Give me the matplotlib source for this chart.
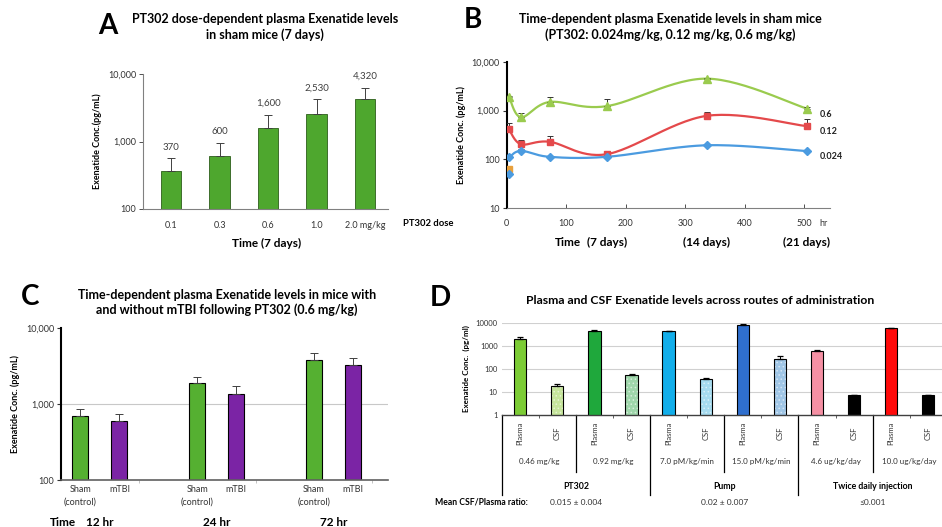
import numpy as np
import matplotlib
matplotlib.use("Agg")
import matplotlib.pyplot as plt
from matplotlib.transforms import blended_transform_factory
from matplotlib.lines import Line2D
from matplotlib.colors import to_rgb

plt.rcParams['font.family'] = ['Lato', 'DejaVu Sans']
plt.rcParams['hatch.linewidth'] = 0.6

# ---------------- DATA ----------------
A_doses = ['0.1', '0.3', '0.6', '1.0', '2.0 mg/kg']
A_values = [370, 600, 1600, 2530, 4320]
A_err = [190, 340, 900, 1670, 1980]
A_labels = ['370', '600', '1,600', '2,530', '4,320']

B_hours = [4, 24, 72, 168, 336, 504]
B_06 = [1900, 730, 1500, 1230, 4500, 1100]
B_06_err = [100, 170, 360, 460, 200, 100]
B_012 = [410, 205, 230, 128, 780, 480]
B_012_err = [150, 40, 65, 15, 165, 190]
B_0024 = [110, 150, 113, 113, 195, 148]
B_0024_err = [5, 12, 5, 5, 10, 8]
B_base_hour = 4
B_base_012 = 63
B_base_0024 = 50
B_xticks = [0, 100, 200, 300, 400, 500]
B_series_labels = ['0.6', '0.12', '0.024']

C_times = ['12 hr', '24 hr', '72 hr']
C_cats = ['Sham\n(control)', 'mTBI']
C_sham = [690, 1860, 3760]
C_sham_err = [160, 370, 930]
C_mtbi = [594, 1330, 3230]
C_mtbi_err = [140, 400, 760]

D_kinds = ['Plasma', 'CSF'] * 6
D_doses = ['0.46 mg/kg', '0.92 mg/kg', '7.0 pM/kg/min', '15.0 pM/kg/min',
           '4.6 ug/kg/day', '10.0 ug/kg/day']
D_routes = ['PT302', 'Pump', 'Twice daily injection']
D_ratios = ['0.015 \u00b1 0.004', '0.02 \u00b1 0.007', '\u22640.001']
D_values = [1900, 18, 4500, 54, 4400, 35, 8200, 260, 600, 7, 5700, 7]
D_err = [450, 4, 500, 7, 150, 5, 800, 100, 70, 0, 400, 0]
D_colors = ['#7ccc35', '#c6e59c', '#1fa83c', '#9fd6ab', '#12aeea', '#a6dbef',
            '#2f6fce', '#a0c6e6', '#f590a4', '#000000', '#ff0a0a', '#000000']
D_hatched = [False, True, False, True, False, True, False, True, False, False, False, False]

# ---------------- LAYOUT ----------------
W, H = 942, 527
fig = plt.figure(figsize=(W / 100, H / 100), dpi=100)
fig.patch.set_facecolor('white')


def ax_px(l, t, r, b):
    return fig.add_axes([l / W, 1 - b / H, (r - l) / W, (b - t) / H])


def fx(px):
    return px / W


def fy(py):
    return 1 - py / H


def ftext(x, y, s, **kw):
    fig.text(fx(x), fy(y), s, **kw)


TICK = 6.5


def style_log_axis(ax, labels_fmt):
    ax.set_yscale('log')
    ax.yaxis.set_minor_locator(matplotlib.ticker.NullLocator())
    ax.yaxis.set_major_formatter(matplotlib.ticker.FuncFormatter(labels_fmt))
    for s in ['top', 'right']:
        ax.spines[s].set_visible(False)


comma = lambda v, p: f'{int(round(v)):,}'
plain = lambda v, p: f'{int(round(v))}'

# ---------------- PANEL A ----------------
axA = ax_px(143, 74, 388, 209)
xA = np.arange(len(A_values))
axA.bar(xA, A_values, width=0.42, color='#4ea72e', edgecolor='#2d5e1a', linewidth=0.6, zorder=2)
axA.errorbar(xA, A_values, yerr=[np.zeros(len(A_err)), A_err], fmt='none',
             ecolor='#404040', elinewidth=0.7, capsize=3, capthick=0.7, zorder=3)
style_log_axis(axA, comma)
axA.set_ylim(100, 10000)
axA.set_xlim(-0.58, 4.47)
axA.set_xticks(xA)
axA.set_xticklabels(A_doses, fontsize=TICK, color='#333333')
axA.tick_params(axis='x', length=0, pad=9)
axA.tick_params(axis='y', labelsize=TICK, length=3, width=0.6, colors='#333333', pad=2)
for s in ['left', 'bottom']:
    axA.spines[s].set_color('#808080')
    axA.spines[s].set_linewidth(0.8)
for xi, v, e, lab in zip(xA, A_values, A_err, A_labels):
    axA.annotate(lab, (xi, v + e), xytext=(0, 5), textcoords='offset points',
                 ha='center', va='bottom', fontsize=7, color='#404040')
axA.set_ylabel('Exenatide Conc.(pg/mL)', fontsize=6.5, fontweight='bold', labelpad=4)
ftext(428, 224, 'PT302 dose', fontsize=6.8, fontweight='bold', ha='center', va='center')
ftext(267, 243, 'Time (7 days)', fontsize=8.5, fontweight='bold', ha='center', va='center')
ftext(265, 19, 'PT302 dose-dependent plasma Exenatide levels', fontsize=9, fontweight='bold',
      ha='center', va='center')
ftext(265, 35, 'in sham mice (7 days)', fontsize=9, fontweight='bold', ha='center', va='center')
ftext(108, 26, 'A', fontsize=20, fontweight='bold', ha='center', va='center')

# ---------------- PANEL B ----------------
axB = ax_px(506.7, 61.7, 830, 208.3)


def smooth(xs, ys, n=30):
    # Catmull-Rom spline through the points in (x, log10 y) space (Excel-style smoothed line)
    px = np.asarray(xs, float)
    py = np.log10(np.asarray(ys, float))
    P = np.column_stack([px, py])
    P = np.vstack([P[0], P, P[-1]])
    out = []
    for i in range(1, len(P) - 2):
        p0, p1, p2, p3 = P[i - 1], P[i], P[i + 1], P[i + 2]
        t = np.linspace(0, 1, n)[:, None]
        seg = 0.5 * ((2 * p1) + (-p0 + p2) * t + (2 * p0 - 5 * p1 + 4 * p2 - p3) * t ** 2
                     + (-p0 + 3 * p1 - 3 * p2 + p3) * t ** 3)
        out.append(seg)
    c = np.vstack(out)
    return c[:, 0], 10 ** c[:, 1]


series = [(B_06, B_06_err, '#9acb4e', '^', 5.5),
          (B_012, B_012_err, '#e4494b', 's', 5),
          (B_0024, B_0024_err, '#4b9be0', 'D', 3.8)]
for vals, errs, col, mk, ms in series:
    sx, sy = smooth(B_hours, vals)
    axB.plot(sx, sy, color=col, linewidth=1.6, zorder=2)
    axB.errorbar(B_hours, vals, yerr=[np.zeros(len(errs)), errs], fmt='none',
                 ecolor='#333333', elinewidth=0.7, capsize=2.5, capthick=0.7, zorder=3)
    axB.plot(B_hours, vals, linestyle='none', marker=mk, markersize=ms, color=col, zorder=4)
axB.plot([B_base_hour], [B_base_012], linestyle='none', marker='s', markersize=5,
         color='#e8a03c', zorder=4)
axB.plot([B_base_hour], [B_base_0024], linestyle='none', marker='D', markersize=3.8,
         color='#4b9be0', zorder=4)
style_log_axis(axB, comma)
axB.set_ylim(10, 10000)
axB.set_xlim(0, 543)
axB.set_xticks(B_xticks)
axB.set_xticklabels([str(t) for t in B_xticks], fontsize=TICK, color='#333333')
axB.tick_params(axis='x', length=3, width=0.6, direction='in', pad=8, colors='#333333')
axB.tick_params(axis='y', labelsize=TICK, length=3, width=0.8, colors='#333333', pad=2)
axB.spines['left'].set_color('black')
axB.spines['left'].set_linewidth(1.5)
axB.spines['bottom'].set_color('#808080')
axB.spines['bottom'].set_linewidth(0.8)
axB.set_ylabel('Exenatide Conc. (pg/mL)', fontsize=6.5, fontweight='bold', labelpad=4)
for lab, vals in zip(B_series_labels, [B_06, B_012, B_0024]):
    axB.annotate(lab, (B_hours[-1], vals[-1]), xytext=(9, -4), textcoords='offset points',
                 ha='left', va='center', fontsize=6.5, fontweight='bold', color='#222222',
                 annotation_clip=False)
ftext(823, 224, 'hr', fontsize=TICK, ha='center', va='center', color='#333333')
ftext(568, 242, 'Time', fontsize=8.5, fontweight='bold', ha='center', va='center')
tB = blended_transform_factory(axB.transData, fig.transFigure)
for hr, s in zip([168, 336, 504], ['(7 days)', '(14 days)', '(21 days)']):
    axB.text(hr, fy(242), s, transform=tB, fontsize=8.5, fontweight='bold', ha='center',
             va='center')
ftext(670, 19, 'Time-dependent plasma Exenatide levels in sham mice', fontsize=9,
      fontweight='bold', ha='center', va='center')
ftext(670, 35, '(PT302: 0.024mg/kg, 0.12 mg/kg, 0.6 mg/kg)', fontsize=9, fontweight='bold',
      ha='center', va='center')
ftext(473, 20, 'B', fontsize=20, fontweight='bold', ha='center', va='center')

# ---------------- PANEL C ----------------
axC = ax_px(61, 327.7, 388, 480)
xs_sham = np.array([0, 3, 6])
xs_mtbi = xs_sham + 1
axC.axhline(1000, color='#c8c8c8', linewidth=0.8, zorder=0)
axC.bar(xs_sham, C_sham, width=0.41, color='#55b031', edgecolor='black', linewidth=0.8, zorder=2)
axC.bar(xs_mtbi, C_mtbi, width=0.41, color='#7b24a5', edgecolor='black', linewidth=0.8, zorder=2)
axC.errorbar(xs_sham, C_sham, yerr=[np.zeros(3), C_sham_err], fmt='none', ecolor='#404040',
             elinewidth=0.7, capsize=3, capthick=0.7, zorder=3)
axC.errorbar(xs_mtbi, C_mtbi, yerr=[np.zeros(3), C_mtbi_err], fmt='none', ecolor='#404040',
             elinewidth=0.7, capsize=3, capthick=0.7, zorder=3)
style_log_axis(axC, comma)
axC.set_ylim(100, 10000)
axC.set_xlim(-0.5, 7.9)
axC.set_xticks([1.5, 4.5, 7.5])
axC.set_xticklabels([])
axC.tick_params(axis='x', length=2, width=0.5, colors='#aaaaaa')
axC.tick_params(axis='y', labelsize=TICK, length=3, width=0.8, colors='#333333', pad=2)
axC.spines['left'].set_color('black')
axC.spines['left'].set_linewidth(1.5)
axC.spines['bottom'].set_color('#606060')
axC.spines['bottom'].set_linewidth(1.2)
tC = blended_transform_factory(axC.transData, fig.transFigure)
for xs, lab in zip([xs_sham, xs_mtbi], C_cats):
    for xv in xs:
        axC.text(xv, fy(485), lab, transform=tC, fontsize=6.5, ha='center', va='top',
                 color='#333333', linespacing=1.55)
for i, t in enumerate(C_times):
    axC.text(xs_sham[i] + 0.5, fy(523), t, transform=tC, fontsize=8.5, fontweight='bold',
             ha='center', va='center')
ftext(50, 523, 'Time', fontsize=8.5, fontweight='bold', ha='left', va='center')
axC.set_ylabel('Exenatide Conc. (pg/mL)', fontsize=6.5, fontweight='bold', labelpad=4)
ftext(227, 295, 'Time-dependent plasma Exenatide levels in mice with', fontsize=9,
      fontweight='bold', ha='center', va='center')
ftext(227, 310, 'and without mTBI following PT302 (0.6 mg/kg)', fontsize=9, fontweight='bold',
      ha='center', va='center')
ftext(30, 297, 'C', fontsize=20, fontweight='bold', ha='center', va='center')

# ---------------- PANEL D ----------------
axD = ax_px(501.7, 322.7, 946.8, 415)
xD = np.arange(len(D_values))
for g in [10, 100, 1000, 10000]:
    axD.axhline(g, color='#d0d0d0', linewidth=0.8, zorder=0)
for i in range(len(D_values)):
    if D_hatched[i]:
        light = tuple(0.45 * np.array(to_rgb(D_colors[i])) + 0.55)
        axD.bar(xD[i], D_values[i], width=0.33, color=D_colors[i], edgecolor=light,
                hatch='....', linewidth=0, zorder=2)
        axD.bar(xD[i], D_values[i], width=0.33, fill=False, edgecolor='black',
                linewidth=0.8, zorder=2.5)
    else:
        axD.bar(xD[i], D_values[i], width=0.33, color=D_colors[i], edgecolor='black',
                linewidth=0.8, zorder=2)
axD.errorbar(xD, D_values, yerr=[np.zeros(len(D_err)), D_err], fmt='none', ecolor='black',
             elinewidth=0.7, capsize=2.5, capthick=0.9, zorder=3)
style_log_axis(axD, plain)
axD.set_ylim(1, 10000)
axD.set_xlim(-0.5, 11.5)
axD.set_xticks(np.arange(0.5, 11, 2))
axD.set_xticklabels([])
axD.tick_params(axis='x', length=2.5, width=0.6, colors='#444444')
axD.tick_params(axis='y', labelsize=5.5, length=0, colors='#333333', pad=3)
axD.spines['left'].set_visible(False)
axD.spines['bottom'].set_color('#404040')
axD.spines['bottom'].set_linewidth(1.0)
tD = blended_transform_factory(axD.transData, fig.transFigure)
for xv, k in zip(xD, D_kinds):
    axD.text(xv, fy(433), k, transform=tD, rotation=90, fontsize=5.5, ha='center',
             va='center', color='#333333')
for j, d in enumerate(D_doses):
    axD.text(2 * j + 0.5, fy(461.7), d, transform=tD, fontsize=5.8, ha='center',
             va='center', color='#333333')
for j, (r, q) in enumerate(zip(D_routes, D_ratios)):
    axD.text(4 * j + 1.5, fy(486.7), r, transform=tD, fontsize=6.3, fontweight='bold',
             ha='center', va='center')
    axD.text(4 * j + 1.5, fy(502.3), q, transform=tD, fontsize=6, ha='center',
             va='center', color='#333333')
for xb in [1.5, 5.5, 9.5]:
    axD.add_line(Line2D([xb, xb], [fy(415), fy(472)], transform=tD, color='black',
                        linewidth=0.9, clip_on=False))
for xb in [-0.5, 3.5, 7.5]:
    axD.add_line(Line2D([xb, xb], [fy(415), fy(495)], transform=tD, color='black',
                        linewidth=0.9, clip_on=False))
ftext(435, 502.3, 'Mean CSF/Plasma ratio:', fontsize=6.2, fontweight='bold', ha='left',
      va='center')
axD.set_ylabel('Exenatide Conc.  (pg/ml)', fontsize=5.8, fontweight='bold', labelpad=4)
ftext(700, 300, 'Plasma and CSF Exenatide levels across routes of administration', fontsize=8.8,
      fontweight='bold', ha='center', va='center')
ftext(440, 298, 'D', fontsize=20, fontweight='bold', ha='center', va='center')

fig.savefig('out.png', dpi=100)
